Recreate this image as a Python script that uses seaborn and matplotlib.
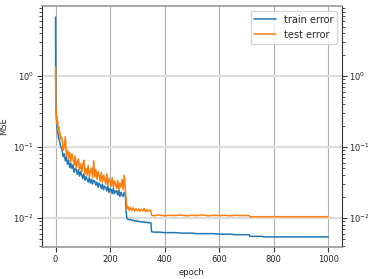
import numpy as np
import pandas as pd
import matplotlib
matplotlib.use('Agg')
import matplotlib.pyplot as plt
import seaborn as sns

epochs = ([0, 1, 2, 3, 4, 5, 6, 8, 10, 12, 14, 16, 18, 20]
          + list(range(24, 257, 4))
          + [260, 262, 266, 270, 275, 280, 285, 290, 295, 300, 305, 310, 315, 320,
             325, 330, 335, 340, 345, 350, 352]
          + list(range(360, 701, 20))
          + [710, 712, 760, 762, 800, 900, 1000])

train_err = [6.8, 0.55, 0.32, 0.26, 0.22, 0.2, 0.18, 0.16, 0.145, 0.13, 0.125, 0.115, 0.105, 0.1,
             .09, .073, .08, .064, .072, .057, .065, .051, .059, .05,
             .056, .044, .05, .047, .041, .048, .039, .045, .04, .036,
             .042, .034, .038, .035, .032, .037, .031, .035, .03, .034,
             .033, .029, .032, .027, .031, .029, .026, .03, .025, .028,
             .027, .024, .028, .023, .026, .025, .022, .026, .022, .024,
             .024, .021, .025, .02, .023, .021, .02, .023, .021,
             .011, .0098, .0096, .0094, .0096, .0092, .0093, .009, .0092, .0089,
             .009, .0088, .0089, .0087, .0088, .0086, .0087, .0085, .0086, .0085,
             .0064,
             .0063, .0063, .0062, .0062, .0062, .0061, .0061, .0061, .006,
             .006, .006, .006, .0059, .0059, .0059, .0058, .0058, .0058,
             .0058, .0055, .0055, .0054, .0054, .0054, .0054]

test_err = [1.35, 0.4, 0.3, 0.33, 0.25, 0.27, 0.21, 0.23, 0.17, 0.19, 0.15, 0.16, 0.13, 0.14,
            .13, .09, .1, .14, .075, .09, .068, .085, .062, .08,
            .07, .055, .075, .05, .062, .068, .048, .058, .044, .056,
            .065, .042, .05, .04, .055, .038, .046, .05, .037, .064,
            .038, .048, .035, .045, .04, .033, .044, .032, .04, .036,
            .03, .042, .029, .036, .033, .028, .037, .027, .033, .03,
            .026, .034, .025, .031, .027, .035, .025, .04, .025,
            .016, .0135, .0145, .0128, .014, .0127, .0138, .0125, .0135, .0126,
            .0134, .0124, .0133, .0125, .0136, .0123, .0131, .0124, .013, .0126,
            .011,
            .0107, .011, .0107, .0109, .0108, .011, .0107, .0109, .0108,
            .011, .0107, .0109, .0108, .0109, .0107, .0109, .0108, .0108,
            .0108, .0104, .0104, .0104, .0104, .0104, .0104]

series_names = ['train error', 'test error']

df = pd.concat([
    pd.DataFrame({'epoch': epochs, 'MSE': train_err, 'serie': series_names[0]}),
    pd.DataFrame({'epoch': epochs, 'MSE': test_err, 'serie': series_names[1]}),
])

sns.set_style('ticks')
plt.rcParams['font.family'] = ['DejaVu Sans']

fig = plt.figure(figsize=(3.74, 2.79), dpi=100)
ax = fig.add_axes([0.112, 0.115, 0.802, 0.863])

sns.lineplot(data=df, x='epoch', y='MSE', hue='serie', estimator=None, sort=False,
             palette=['#1f77b4', '#ff7f0e'], linewidth=1.1, ax=ax)

ax.set_yscale('log')
ax.set_xlim(-50, 1050)
ax.set_ylim(0.0039, 9.7)
ax.set_xticks([0, 200, 400, 600, 800, 1000])

ax.grid(axis='x', color='#b0b0b0', linewidth=0.8)
ax.grid(axis='y', which='major', color='#dddddd', linewidth=1.6)
ax.set_axisbelow(True)

ax.tick_params(axis='both', which='both', labelsize=6, right=True, labelright=True,
               direction='out', color='#333333', pad=2)
ax.tick_params(axis='y', which='major', length=3.5)
ax.tick_params(axis='y', which='minor', length=2)
ax.tick_params(axis='x', length=3.5)

for side in ['left', 'right']:
    ax.spines[side].set_color('#333333')
    ax.spines[side].set_linewidth(0.8)
for side in ['top', 'bottom']:
    ax.spines[side].set_color('#999999')
    ax.spines[side].set_linewidth(1.2)

ax.set_xlabel('epoch', fontsize=6, labelpad=3)
ax.set_ylabel('MSE', fontsize=6, labelpad=4)

ax.legend(title=None, loc='upper right', fontsize=7, frameon=True, handlelength=2.2)

fig.savefig('out.png', dpi=100)
